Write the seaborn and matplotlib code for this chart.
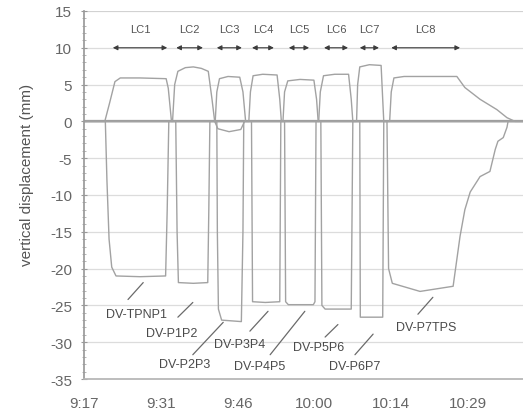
import matplotlib
matplotlib.use("Agg")
import matplotlib.pyplot as plt
import numpy as np
import pandas as pd
import seaborn as sns

sns.set_theme(style="white")
plt.rcParams["font.family"] = ["Liberation Sans", "DejaVu Sans"]
plt.rcParams["axes.unicode_minus"] = False

# ---- time axis (minutes after 9:17) ----
tick_minutes = [0, 14.4, 28.8, 43.2, 57.6, 72.0]
tick_labels = ["9:17", "9:31", "9:46", "10:00", "10:14", "10:29"]
t_end = 82.3

# ---- load case windows (minutes) ----
lc_names = ["LC1", "LC2", "LC3", "LC4", "LC5", "LC6", "LC7", "LC8"]
lc_start = [5.4, 17.3, 24.9, 31.5, 38.4, 45.0, 51.7, 57.6]
lc_stop = [15.6, 22.3, 29.6, 35.6, 42.2, 49.5, 55.3, 70.5]

# ---- vertical displacement records per gauge (time in min, displacement in mm) ----
t_tpnp1 = [0, 4.0, 4.3, 4.7, 5.2, 6.0, 10.5, 15.3, 15.6, 15.9, 82.3]
v_tpnp1 = [0, 0, -8, -16, -19.8, -21.0, -21.1, -21.0, -12, 0, 0]

t_p1p2 = [0, 3.9, 4.8, 5.8, 6.8, 10.5, 15.4, 15.8, 16.4, 17.2, 17.45, 17.7, 20.5, 23.2, 23.4,
          23.6, 24.5, 25.1, 27.2, 29.4, 30.1, 82.3]
v_p1p2 = [0, 0, 2.5, 5.4, 5.9, 5.9, 5.8, 4.5, 0, 0, -15, -21.9, -22.0, -21.9, -12,
          0, 0, -1.0, -1.4, -1.1, 0, 0]

t_p2p3 = [0, 16.6, 17.0, 17.6, 19.0, 20.5, 22.0, 23.3, 24.0, 24.5, 24.9, 25.0, 25.2, 25.8,
          29.5, 29.8, 29.95, 82.3]
v_p2p3 = [0, 0, 5.0, 6.8, 7.3, 7.4, 7.2, 6.8, 3.0, 0, 0, -15, -25.5, -27.0,
          -27.2, -15, 0, 0]

t_p3p4 = [0, 24.6, 24.9, 25.4, 27.0, 29.2, 29.8, 30.3, 31.4, 31.6, 34.0, 36.7, 36.9, 82.3]
v_p3p4 = [0, 0, 4.0, 5.8, 6.1, 6.0, 4.0, 0, 0, -24.5, -24.6, -24.5, 0, 0]

t_p4p5 = [0, 30.9, 31.2, 31.7, 33.5, 36.2, 36.7, 37.0, 37.6, 37.8, 38.3, 43.0, 43.3, 43.5, 82.3]
v_p4p5 = [0, 0, 4.0, 6.2, 6.4, 6.3, 3.0, 0, 0, -24.5, -24.9, -24.9, -24.5, 0, 0]

t_p5p6 = [0, 37.3, 37.6, 38.2, 40.5, 43.1, 43.6, 43.9, 44.4, 44.6, 45.2, 50.1, 50.4, 82.3]
v_p5p6 = [0, 0, 4.0, 5.5, 5.7, 5.6, 3.0, 0, 0, -25.0, -25.5, -25.5, 0, 0]

t_p6p7 = [0, 44.0, 44.3, 44.9, 47.0, 49.6, 50.1, 50.4, 51.7, 51.8, 56.0, 56.2, 57.3, 57.6,
          58.1, 60.0, 69.9, 71.4, 74.25, 77.4, 79.3, 80.8, 82.3]
v_p6p7 = [0, 0, 4.0, 6.2, 6.4, 6.4, 3.0, 0, 0, -26.6, -26.6, 0, 0, 4.0,
          5.9, 6.1, 6.1, 4.6, 3.0, 1.6, 0.5, 0, 0]

t_p7tps = [0, 51.1, 51.3, 51.7, 53.5, 55.7, 56.0, 56.2, 56.8, 57.1, 57.8, 63.0, 69.2, 70.5,
           71.4, 72.4, 74.25, 76.1, 77.1, 77.6, 78.6, 79.3, 79.5, 82.3]
v_p7tps = [0, 0, 5.0, 7.4, 7.7, 7.6, 3.0, 0, 0, -20.0, -22.0, -23.1, -22.4, -15.6,
           -12.0, -9.6, -7.5, -6.8, -3.8, -2.7, -2.2, -0.8, 0, 0]

gauges = ["DV-TPNP1", "DV-P1P2", "DV-P2P3", "DV-P3P4",
          "DV-P4P5", "DV-P5P6", "DV-P6P7", "DV-P7TPS"]
records = [(t_tpnp1, v_tpnp1), (t_p1p2, v_p1p2), (t_p2p3, v_p2p3), (t_p3p4, v_p3p4),
           (t_p4p5, v_p4p5), (t_p5p6, v_p5p6), (t_p6p7, v_p6p7), (t_p7tps, v_p7tps)]

# gauge label placement: text anchor and leader line (from, to)
label_xy = [(9.9, -26.2), (16.5, -28.7), (18.9, -32.9), (29.1, -30.3),
            (33.0, -33.3), (43.9, -30.7), (50.8, -33.3), (64.1, -28.0)]
leader_from = [(8.25, -24.2), (17.6, -26.6), (20.4, -31.7), (31.1, -28.5),
               (34.9, -31.7), (45.2, -29.3), (50.8, -31.7), (62.6, -26.2)]
leader_to = [(11.1, -21.9), (20.4, -24.6), (26.1, -27.3), (34.5, -25.8),
             (41.4, -25.8), (47.6, -27.6), (54.2, -28.9), (65.4, -23.9)]

frames = []
for name, (tt, vv) in zip(gauges, records):
    frames.append(pd.DataFrame({"time": tt, "disp": vv, "gauge": name}))
df = pd.concat(frames, ignore_index=True)

fig = plt.figure(figsize=(5.23, 4.14), dpi=100)
ax = fig.add_axes([0.1606, 0.0821, 0.8394, 0.889])

# horizontal grid
for yv in range(-30, 20, 5):
    ax.axhline(yv, color="#dcdcdc", lw=0.9, zorder=0)
ax.axhline(0, color="#8a8a8a", lw=1.6, zorder=1)

# one continuous trace per gauge
sns.lineplot(data=df, x="time", y="disp", hue="gauge", hue_order=gauges,
             estimator=None, sort=False, palette=["#a2a2a2"] * len(gauges),
             legend=False, lw=1.0, ax=ax, zorder=2)

# load case arrows
for name, s, e in zip(lc_names, lc_start, lc_stop):
    ax.annotate("", xy=(e, 10), xytext=(s, 10),
                arrowprops=dict(arrowstyle="<|-|>", color="#3c3c3c", lw=0.8,
                                mutation_scale=7, shrinkA=0, shrinkB=0))
    ax.text((s + e) / 2, 12.6, name, ha="center", va="center",
            fontsize=8, color="#555555")

# gauge labels with leader lines
for name, (tx, ty), p0, p1 in zip(gauges, label_xy, leader_from, leader_to):
    ax.text(tx, ty, name, ha="center", va="center", fontsize=9, color="#4a4a4a")
    ax.annotate("", xy=p1, xytext=p0,
                arrowprops=dict(arrowstyle="-", color="#6a6a6a", lw=0.9,
                                shrinkA=0, shrinkB=0))

ax.set_xlim(0, t_end)
ax.set_ylim(-35, 15)
ax.set_xticks(tick_minutes)
ax.set_xticklabels(tick_labels)
ax.set_yticks(np.arange(-35, 20, 5))
ax.set_yticks(np.arange(-35, 16, 1), minor=True)
ax.tick_params(axis="x", length=0, pad=12, labelsize=11, labelcolor="#666666")
ax.tick_params(axis="y", which="major", direction="inout", length=5, width=0.8,
               color="#999999", pad=6, labelsize=11, labelcolor="#666666", left=True)
ax.tick_params(axis="y", which="minor", direction="inout", length=3, width=0.6,
               color="#aaaaaa", left=True)
ax.set_xlabel("")
ax.set_ylabel("vertical displacement (mm)", fontsize=11, color="#555555")
ax.yaxis.set_label_coords(-0.115, 0.557)

for side in ["top", "right"]:
    ax.spines[side].set_visible(False)
ax.spines["left"].set_color("#9a9a9a")
ax.spines["bottom"].set_color("#b5b5b5")
ax.axhline(15, color="#d0d0d0", lw=1.2, zorder=0)

fig.savefig("out.png", dpi=100)
